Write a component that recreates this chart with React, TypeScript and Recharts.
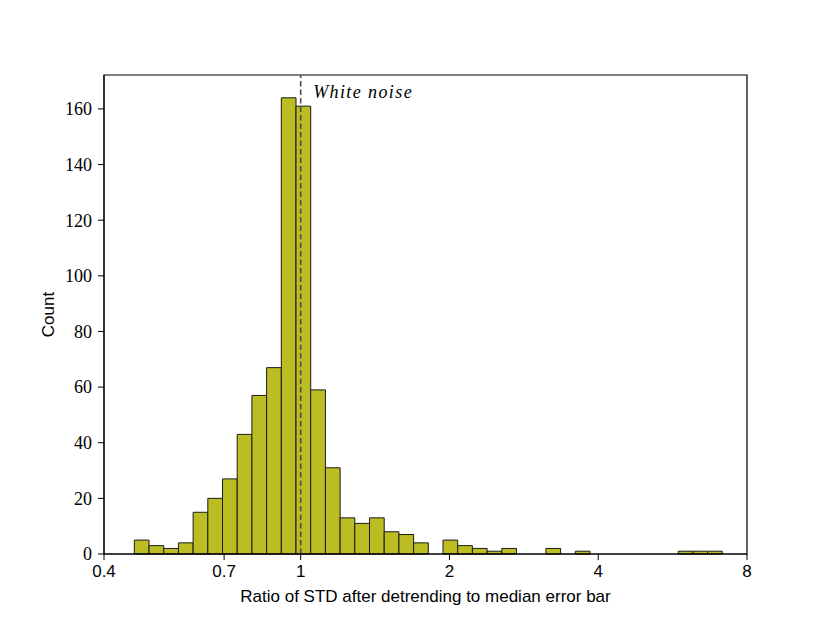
import React from 'react';
import { ComposedChart, XAxis, YAxis, ReferenceArea, ReferenceLine } from 'recharts';

// Histogram bins (log-spaced between the first and last edge)
const binStart = 0.4607;
const binEnd = 7.13;
const counts = [
  5, 3, 2, 4, 15, 20, 27, 43, 57, 67,
  164, 161, 59, 31, 13, 11, 13, 8, 7, 4,
  0, 5, 3, 2, 1, 2, 0, 0, 2, 0,
  1, 0, 0, 0, 0, 0, 0, 1, 1, 1,
];
const xTicks = [0.4, 0.7, 1, 2, 4, 8];
const yTicks = [0, 20, 40, 60, 80, 100, 120, 140, 160];
const xDomain = [0.4, 8];
const yDomain = [0, 172.2];
const whiteNoiseX = 1;

const nBins = counts.length;
const ratio = Math.pow(binEnd / binStart, 1 / nBins);
const bins = counts.map((count, i) => ({
  x0: binStart * Math.pow(ratio, i),
  x1: binStart * Math.pow(ratio, i + 1),
  mid: binStart * Math.pow(ratio, i + 0.5),
  count,
}));

const SANS = '"Liberation Sans", sans-serif';
const SERIF = '"Liberation Serif", serif';

const NoiseLabel = (props: any) => {
  const vb = props.viewBox || {};
  return (
    <text
      x={vb.x + 12.5}
      y={vb.y + 22.5}
      fontFamily={SERIF}
      fontStyle="italic"
      fontSize={18}
      letterSpacing={1.4}
      fill="#000"
    >
      White noise
    </text>
  );
};

export default function App() {
  return (
    <div style={{ position: 'absolute', left: 0, top: 0 }}>
      <ComposedChart
        width={830}
        height={623}
        data={bins}
        margin={{ top: 75, right: 83, bottom: 0, left: 44 }}
      >
        <XAxis
          dataKey="mid"
          type="number"
          scale="log"
          domain={xDomain}
          allowDataOverflow
          ticks={xTicks}
          tickFormatter={(v: number) => String(v)}
          height={69}
          tickSize={6}
          tickMargin={5}
          axisLine={{ stroke: '#000' }}
          tickLine={{ stroke: '#000' }}
          tick={{ fontFamily: SANS, fontSize: 17, fill: '#000' }}
          label={{
            value: 'Ratio of STD after detrending to median error bar',
            position: 'insideBottom',
            offset: 21,
            style: { fontFamily: SANS, fontSize: 17, fill: '#000' },
          }}
        />
        <YAxis
          type="number"
          domain={yDomain}
          allowDataOverflow
          ticks={yTicks}
          width={60}
          tickSize={6}
          tickMargin={6}
          axisLine={{ stroke: '#000' }}
          tickLine={{ stroke: '#000' }}
          tick={{ fontFamily: SERIF, fontSize: 18, fill: '#000' }}
          label={{
            value: 'Count',
            angle: -90,
            position: 'insideLeft',
            offset: 4,
            style: { fontFamily: SANS, fontSize: 17, fill: '#000', textAnchor: 'middle' },
          }}
        />
        {bins
          .filter((b) => b.count > 0)
          .map((b, i) => (
            <ReferenceArea
              key={i}
              x1={b.x0}
              x2={b.x1}
              y1={0}
              y2={b.count}
              fill="#bcbd22"
              fillOpacity={1}
              stroke="#1a1a1a"
              strokeWidth={1}
              strokeOpacity={1}
            />
          ))}
        <ReferenceLine
          x={whiteNoiseX}
          stroke="#4d4d4d"
          strokeWidth={1.6}
          strokeDasharray="5.5 3"
          label={<NoiseLabel />}
        />
        <ReferenceArea
          x1={xDomain[0]}
          x2={xDomain[1]}
          y1={yDomain[0]}
          y2={yDomain[1]}
          fill="none"
          fillOpacity={0}
          stroke="#000"
          strokeWidth={1.2}
          strokeOpacity={1}
        />
      </ComposedChart>
    </div>
  );
}
